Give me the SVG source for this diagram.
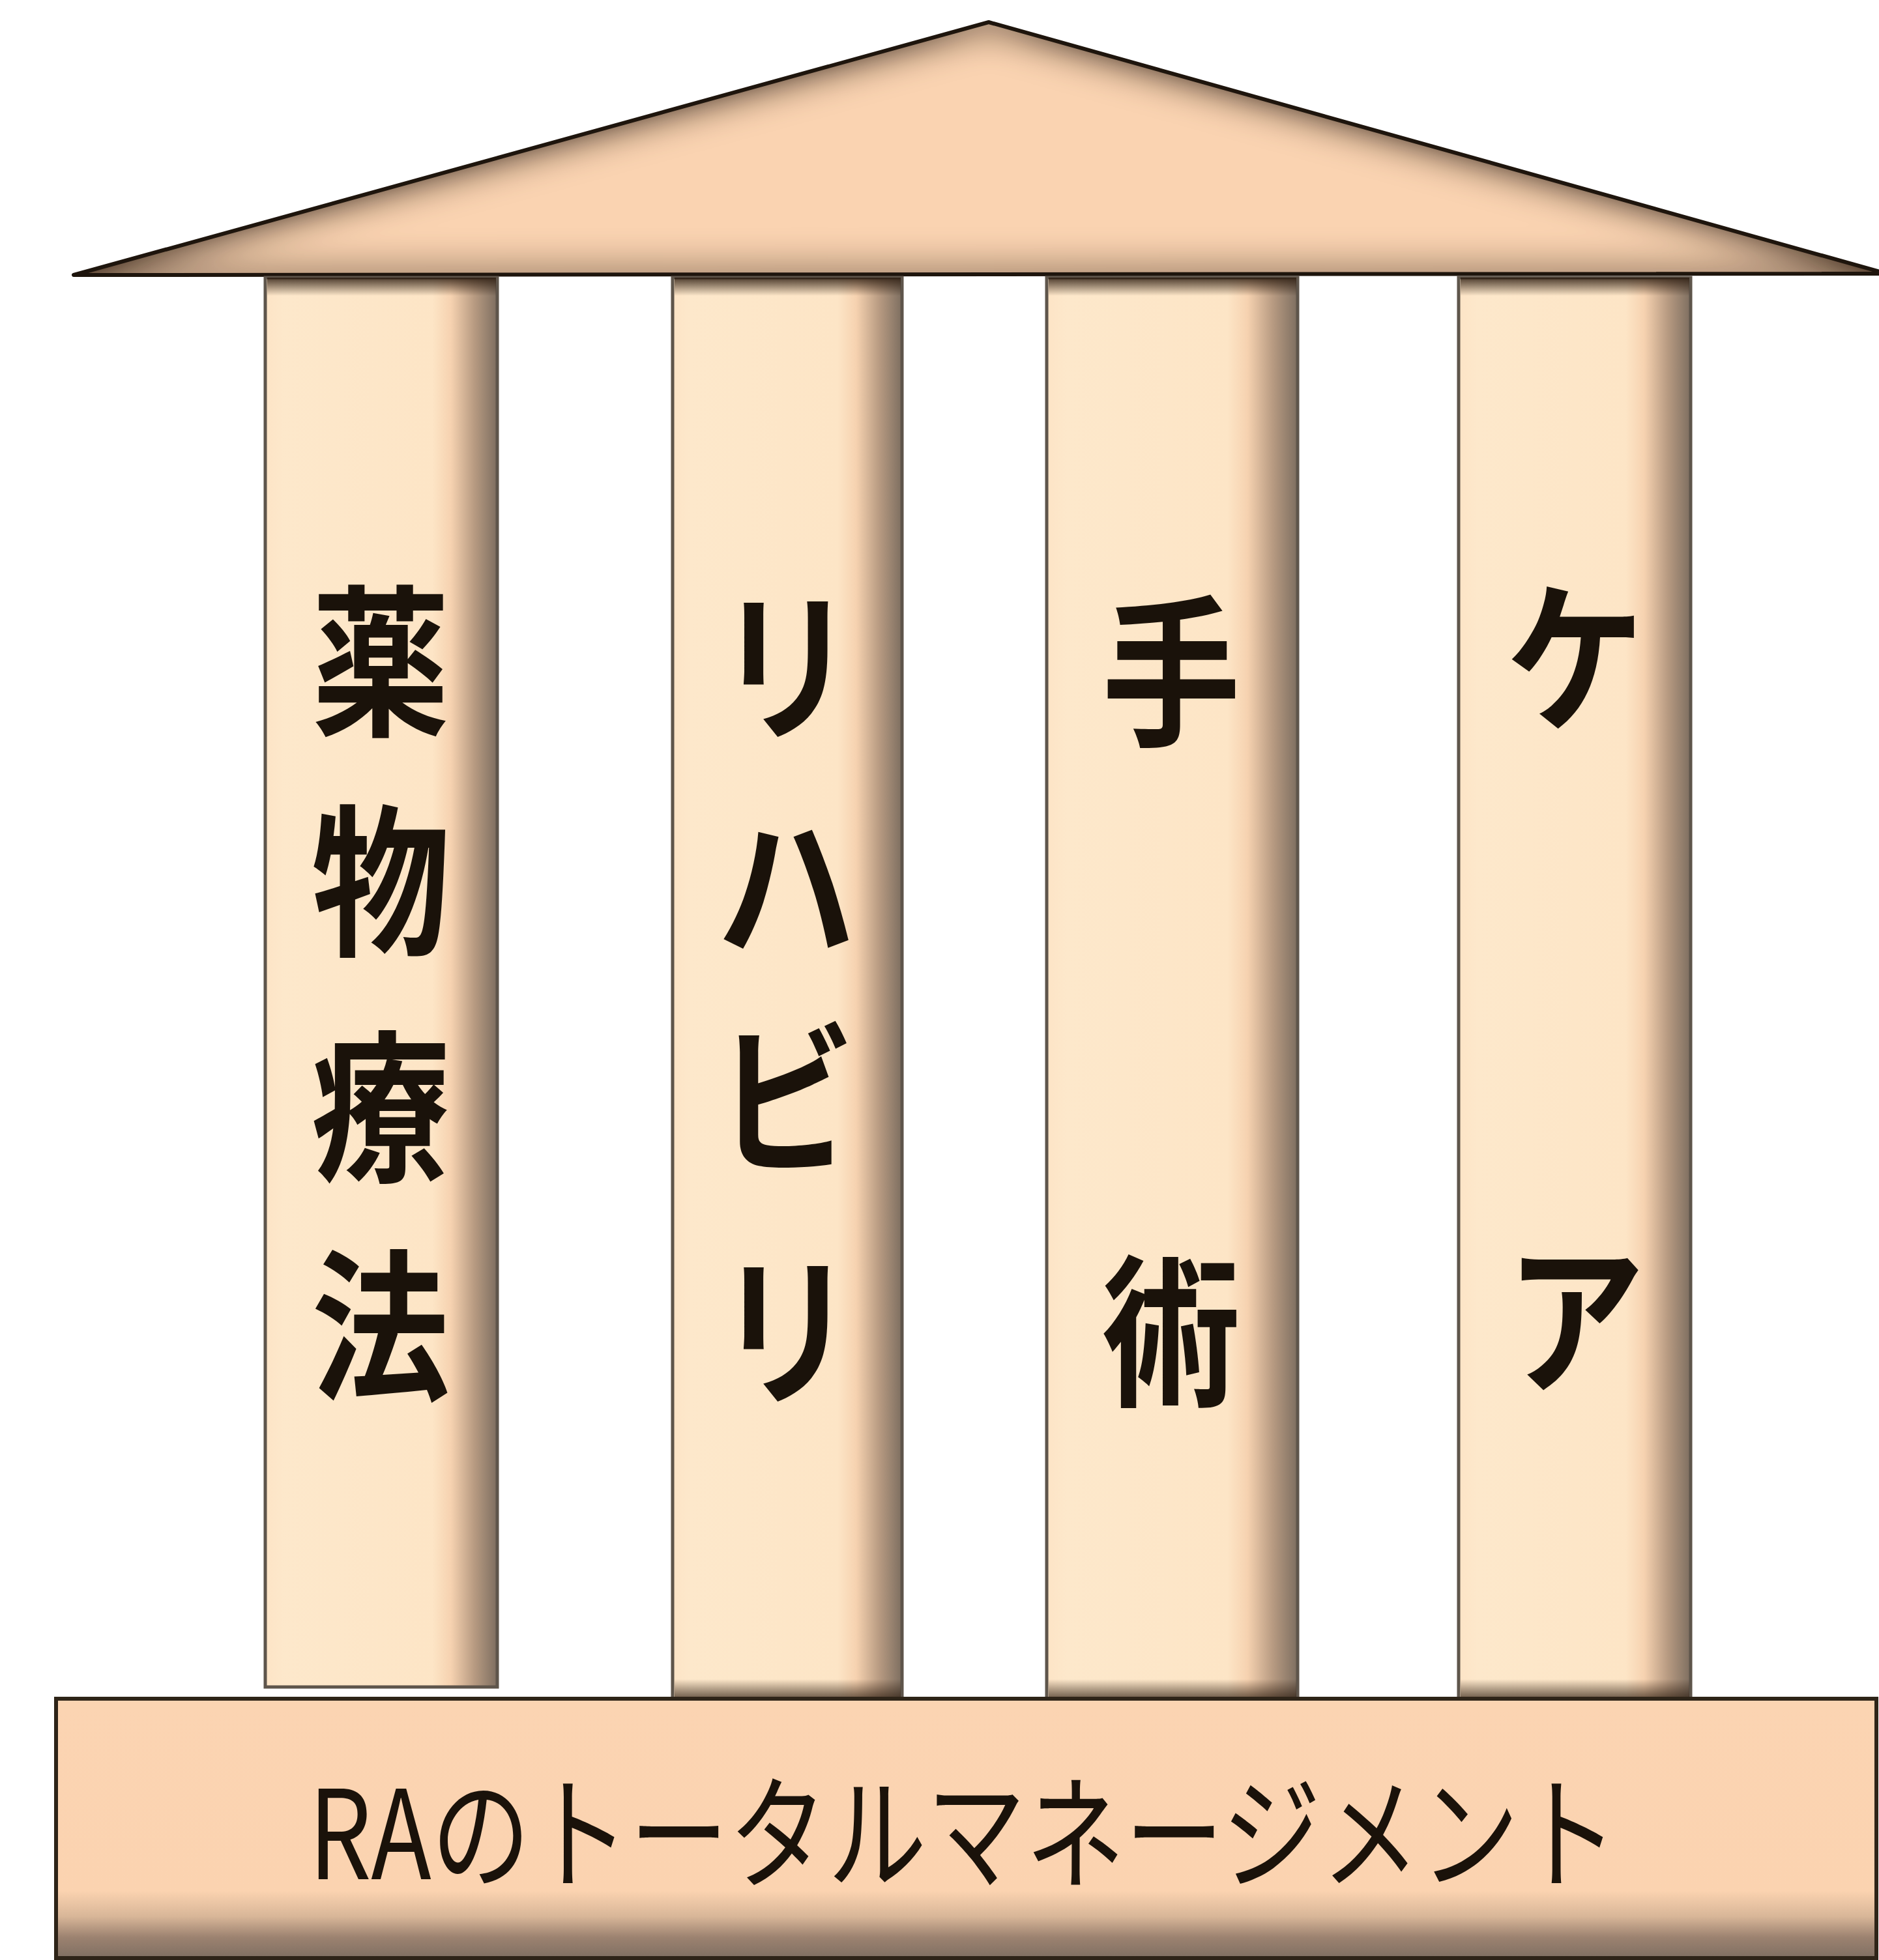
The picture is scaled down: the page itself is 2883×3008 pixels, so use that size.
<svg xmlns="http://www.w3.org/2000/svg" width="2883" height="3008" viewBox="0 0 2883 3008">
<style>
.col{fill:url(#colGrad);stroke:#5e554b;stroke-width:5}
.ctext{font-family:"Noto Sans CJK JP","Noto Sans CJK SC",sans-serif;font-size:250px;font-weight:700;fill:#1a120a;text-anchor:middle;dominant-baseline:central}
.btext{font-family:"Noto Sans CJK JP","Noto Sans CJK SC",sans-serif;font-size:190px;fill:#1a120a;text-anchor:middle}
</style>
<defs>
<linearGradient id="colGrad" x1="0" y1="0" x2="1" y2="0">
<stop offset="0" stop-color="#fde4c6"/>
<stop offset="0.08" stop-color="#fde8cb"/>
<stop offset="0.72" stop-color="#fde5c6"/>
<stop offset="0.8" stop-color="#f6d2b0"/>
<stop offset="0.9" stop-color="#b89b82"/>
<stop offset="1" stop-color="#7d6e60"/>
</linearGradient>
<linearGradient id="topShade" x1="0" y1="0" x2="0" y2="1">
<stop offset="0" stop-color="#2a1a0e" stop-opacity="0.85"/>
<stop offset="1" stop-color="#2a1a0e" stop-opacity="0"/>
</linearGradient>
<linearGradient id="botShade" x1="0" y1="0" x2="0" y2="1">
<stop offset="0" stop-color="#2a1a0e" stop-opacity="0"/>
<stop offset="1" stop-color="#2a1a0e" stop-opacity="0.7"/>
</linearGradient>
<linearGradient id="baseGrad" x1="0" y1="0" x2="0" y2="1">
<stop offset="0" stop-color="#fbd4b2"/>
<stop offset="0.74" stop-color="#fbd3b0"/>
<stop offset="0.84" stop-color="#d8b698"/>
<stop offset="0.92" stop-color="#9c8270"/>
<stop offset="1" stop-color="#7f6f62"/>
</linearGradient>
<filter id="inner" x="-5%" y="-5%" width="110%" height="110%">
<feFlood flood-color="#3e2818" result="f"/>
<feComposite in="f" in2="SourceAlpha" operator="out" result="o"/>
<feGaussianBlur in="o" stdDeviation="30" result="b"/>
<feComposite in="b" in2="SourceAlpha" operator="in" result="s"/>
<feMerge><feMergeNode in="SourceGraphic"/><feMergeNode in="s"/><feMergeNode in="s"/></feMerge>
</filter>
</defs>
<rect width="2883" height="3008" fill="#ffffff"/>

<g id="roof">
<polygon points="1517,34 113,422 2895,420" fill="#fad3b1" filter="url(#inner)"/>
<polygon points="1517,34 113,422 2895,420" fill="none" stroke="#1e150d" stroke-width="6" stroke-linejoin="round"/>
</g>

<g id="pillar-1">
<rect class="col" x="407" y="426" width="356" height="2163"/>
<rect x="410" y="426" width="351" height="28" fill="url(#topShade)"/>
<text class="ctext" transform="translate(584,1001) scale(0.85,1)">薬</text>
<text class="ctext" transform="translate(584,1338) scale(0.85,1)">物</text>
<text class="ctext" transform="translate(584,1685) scale(0.85,1)">療</text>
<text class="ctext" transform="translate(584,2021) scale(0.85,1)">法</text>
</g>

<g id="pillar-2">
<rect class="col" x="1032" y="426" width="352" height="2181"/>
<rect x="1035" y="426" width="347" height="28" fill="url(#topShade)"/>
<rect x="1035" y="2577" width="347" height="30" fill="url(#botShade)"/>
<text class="ctext" transform="translate(1206,1008) scale(0.85,1)">リ</text>
<text class="ctext" transform="translate(1206,1345) scale(0.85,1)">ハ</text>
<text class="ctext" transform="translate(1206,1672) scale(0.85,1)">ビ</text>
<text class="ctext" transform="translate(1206,2028) scale(0.85,1)">リ</text>
</g>

<g id="pillar-3">
<rect class="col" x="1606" y="426" width="385" height="2181"/>
<rect x="1609" y="426" width="380" height="28" fill="url(#topShade)"/>
<rect x="1609" y="2577" width="380" height="30" fill="url(#botShade)"/>
<text class="ctext" transform="translate(1797,1017) scale(0.85,1)">手</text>
<text class="ctext" transform="translate(1797,2029) scale(0.85,1)">術</text>
</g>

<g id="pillar-4">
<rect class="col" x="2238" y="426" width="356" height="2181"/>
<rect x="2241" y="426" width="351" height="28" fill="url(#topShade)"/>
<rect x="2241" y="2577" width="351" height="30" fill="url(#botShade)"/>
<text class="ctext" transform="translate(2417,995) scale(0.85,1)">ケ</text>
<text class="ctext" transform="translate(2417,2010) scale(0.85,1)">ア</text>
</g>

<g id="base">
<rect x="86" y="2607" width="2793" height="398" fill="url(#baseGrad)" stroke="#2e2418" stroke-width="6"/>
<text class="btext" transform="translate(1478,2884) scale(0.8,1)">RAのトータルマネージメント</text>
</g>

<g id="connectors"></g>
</svg>
